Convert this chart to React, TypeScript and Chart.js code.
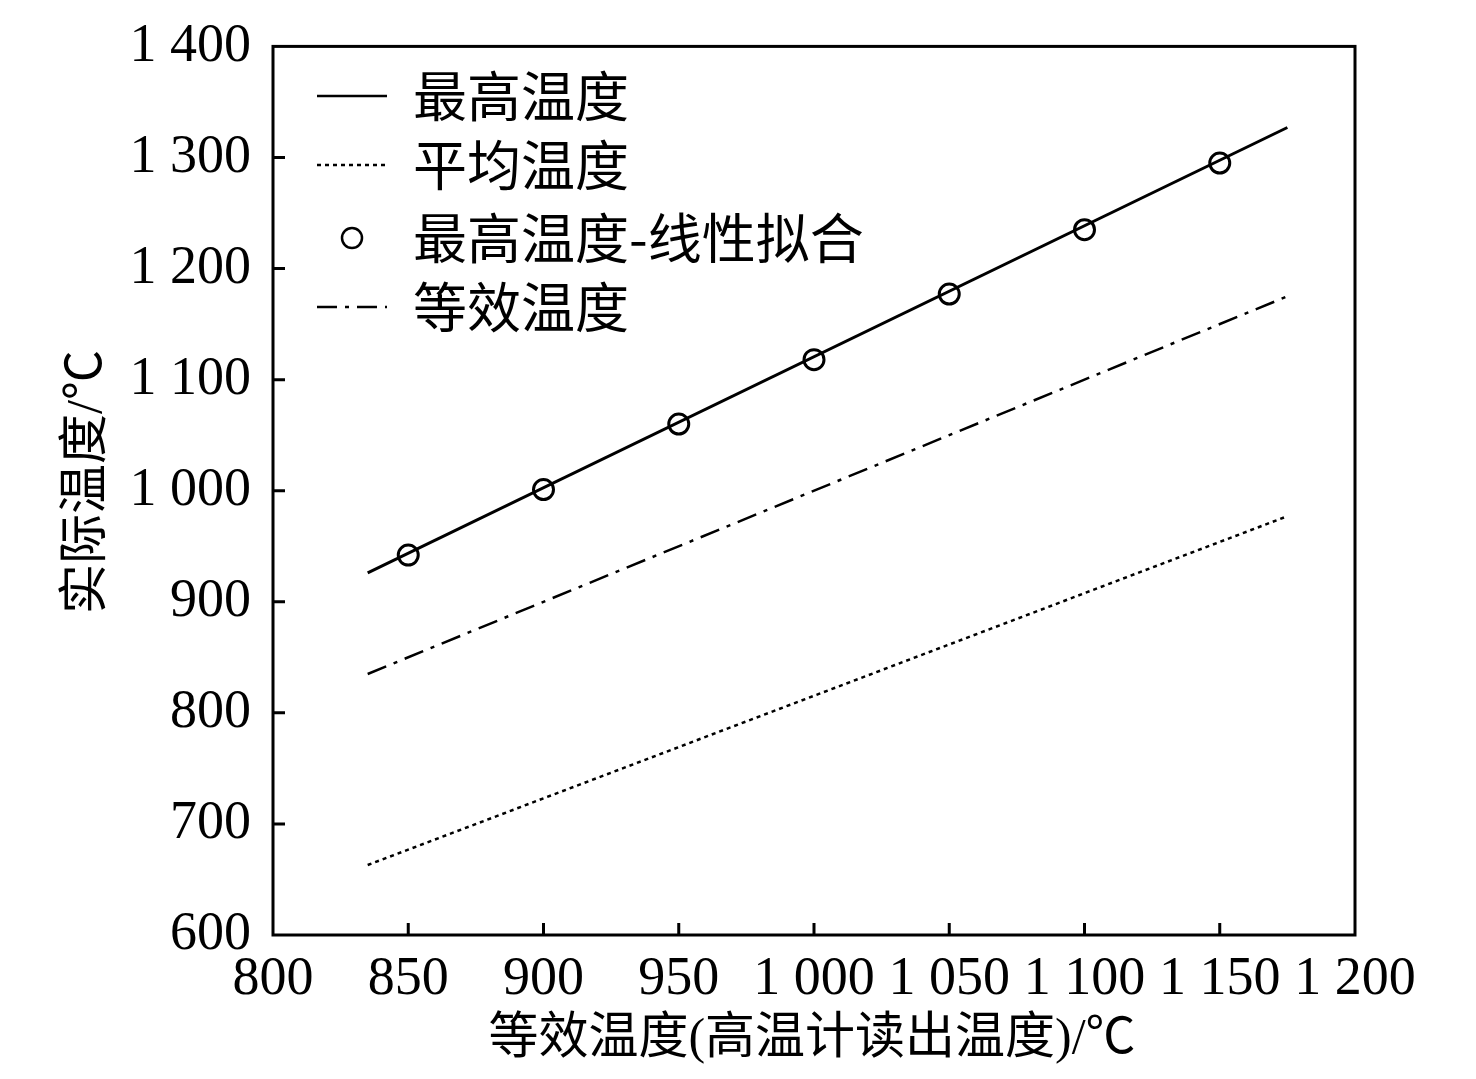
import React, { useEffect, useRef } from "react";
import { Chart, registerables } from "chart.js";
Chart.register(...registerables);

const lineX = [835, 1175];
const maxTemp = [926, 1327];
const avgTemp = [663, 977];
const eqTemp = [835, 1175];
const fitX = [850, 900, 950, 1000, 1050, 1100, 1150];
const fitY = [942, 1001, 1060, 1118, 1177, 1235, 1295];
const legendLabels = ["最高温度", "平均温度", "最高温度-线性拟合", "等效温度"];
const xTitle = "等效温度(高温计读出温度)/℃";
const yTitle = "实际温度/℃";

const fmt = (v: number) => (v >= 1000 ? "1 " + String(v % 1000).padStart(3, "0") : String(v));
const serif = "'Liberation Serif','Noto Sans CJK SC'";

export default function App() {
  const ref = useRef<HTMLCanvasElement>(null);
  useEffect(() => {
    document.body.style.margin = "0";
    const frame = {
      id: "frame",
      afterDraw(c: any) {
        const ctx = c.ctx, a = c.chartArea;
        ctx.save();
        ctx.strokeStyle = "#000";
        ctx.lineWidth = 3;
        ctx.strokeRect(a.left, a.top, a.right - a.left, a.bottom - a.top);
        const xs = c.scales.x, ys = c.scales.y;
        ctx.beginPath();
        for (let v = 850; v < 1200; v += 50) {
          const p = xs.getPixelForValue(v);
          ctx.moveTo(p, a.bottom); ctx.lineTo(p, a.bottom - 12);
        }
        for (let v = 700; v < 1400; v += 100) {
          const p = ys.getPixelForValue(v);
          ctx.moveTo(a.left, p); ctx.lineTo(a.left + 12, p);
        }
        ctx.stroke();
        ctx.fillStyle = "#000";
        // titles
        ctx.font = "50px " + serif;
        ctx.textAlign = "center";
        ctx.textBaseline = "middle";
        ctx.fillText(xTitle, 812, 1040);
        ctx.save();
        ctx.translate(88, 482);
        ctx.rotate(-Math.PI / 2);
        ctx.fillText(yTitle, 0, 0);
        ctx.restore();
        // legend
        ctx.textAlign = "left";
        ctx.font = "54px 'Noto Sans CJK SC'";
        const rows = [96, 165, 238, 307];
        const dashes = [[], [4, 4], null, [20, 8, 4, 8]];
        rows.forEach((y, i) => {
          ctx.lineWidth = 2.5;
          if (dashes[i]) {
            ctx.setLineDash(dashes[i] as number[]);
            ctx.beginPath(); ctx.moveTo(317, y); ctx.lineTo(387, y); ctx.stroke();
            ctx.setLineDash([]);
          } else {
            ctx.beginPath(); ctx.arc(352, y, 10, 0, Math.PI * 2); ctx.stroke();
          }
          ctx.fillText(legendLabels[i], 413, y);
        });
        ctx.restore();
      },
    };
    const chart = new Chart(ref.current!, {
      type: "scatter",
      data: {
        datasets: [
          { data: lineX.map((x, i) => ({ x, y: maxTemp[i] })), showLine: true, borderColor: "#000", borderWidth: 3, pointRadius: 0 },
          { data: lineX.map((x, i) => ({ x, y: avgTemp[i] })), showLine: true, borderColor: "#000", borderWidth: 2.5, borderDash: [4, 4], pointRadius: 0 },
          { data: fitX.map((x, i) => ({ x, y: fitY[i] })), pointRadius: 10, pointBorderWidth: 3, pointBorderColor: "#000", pointBackgroundColor: "transparent" },
          { data: lineX.map((x, i) => ({ x, y: eqTemp[i] })), showLine: true, borderColor: "#000", borderWidth: 2.5, borderDash: [20, 8, 4, 8], pointRadius: 0 },
        ],
      },
      options: {
        animation: false, responsive: false,
        layout: { padding: { top: 15, right: 121, left: 0, bottom: 0 } },
        plugins: { legend: { display: false }, tooltip: { enabled: false } },
        scales: {
          x: {
            min: 800, max: 1200,
            grid: { display: false }, border: { display: false },
            ticks: { stepSize: 50, color: "#000", font: { family: serif, size: 54 }, maxRotation: 0, autoSkip: false, padding: 4, callback: (v: any) => fmt(Number(v)) },
            afterFit: (s: any) => { s.height = 144; },
          },
          y: {
            min: 600, max: 1400,
            grid: { display: false }, border: { display: false },
            ticks: { stepSize: 100, color: "#000", font: { family: serif, size: 54 }, padding: 14, callback: (v: any) => fmt(Number(v)) },
            afterFit: (s: any) => { s.width = 273; },
          },
        },
      },
      plugins: [frame],
    } as any);
    return () => chart.destroy();
  }, []);
  return <canvas ref={ref} width={1476} height={1079} style={{ display: "block" }} />;
}
